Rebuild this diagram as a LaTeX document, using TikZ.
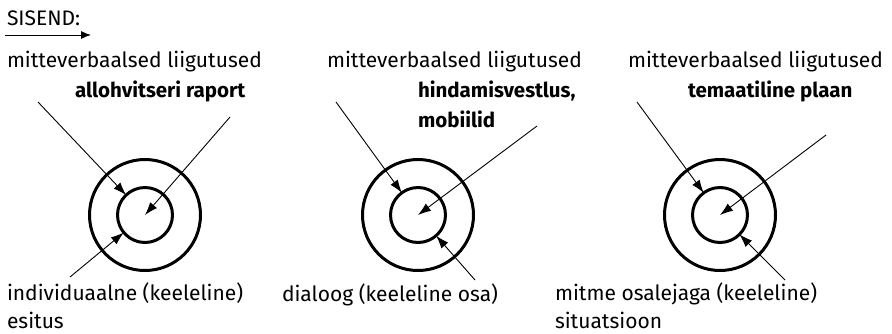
\documentclass[tikz,border=0pt]{standalone}
\usepackage{fontspec}
\setmainfont{Fira Sans}
\usetikzlibrary{arrows.meta}

\begin{document}
\begin{tikzpicture}[x=1pt, y=-1pt,
  every node/.style = {inner sep=0pt, outer sep=0pt},
  caption/.style = {anchor=base west, align=left,
    font=\fontsize{21}{28}\selectfont},
  topic/.style = {caption, font=\fontsize{20.5}{30}\selectfont\bfseries},
  outer ring/.style = {circle, draw, line width=3pt, minimum size=111pt},
  inner ring/.style = {circle, draw, line width=3pt, minimum size=55pt},
  pointer/.style = {-{Latex[length=13pt,width=9pt]}, line width=0.9pt}]
  \useasboundingbox (0,0) rectangle (892,333);

  % input marker
  \node[caption] (input) at (7,25) {SISEND:};
  \coordinate (inputstart) at (5,35);
  \coordinate (inputend) at (91,35);
  \draw[-{Latex[length=10pt,width=8pt]}, line width=0.9pt] (inputstart) -- (inputend);

  % three levels
  \foreach \i/\cx/\tx/\bx in {1/145/7/75, 2/418/327/418, 3/720/628/688} {
    \node[outer ring] (ring\i) at (\cx,215) {};
    \node[inner ring] (core\i) at (\cx,215) {};
    \node[caption] (moves\i) at (\tx,67) {mitteverbaalsed liigutused};
  }
  % multi-line texts sit on their last baseline
  \node[topic] (topic1) at (75,97) {allohvitseri raport};
  \node[topic] (topic2) at (418,127) {hindamisvestlus,\\mobiilid};
  \node[topic] (topic3) at (688,97) {temaatiline plaan};

  \node[caption] (form1) at (7,328) {individuaalne (keeleline)\\esitus};
  \node[caption] (form2) at (282,301) {dialoog (keeleline osa)};
  \node[caption] (form3) at (555,328) {mitme osalejaga (keeleline)\\situatsioon};

  % arrow start points
  \coordinate (movesfrom1) at (38,102);
  \coordinate (topicfrom1) at (230,117);
  \coordinate (formfrom1) at (70,277);
  \coordinate (movesfrom2) at (336,102);
  \coordinate (topicfrom2) at (537,126);
  \coordinate (formfrom2) at (475,280);
  \coordinate (movesfrom3) at (637,102);
  \coordinate (topicfrom3) at (826,135);
  \coordinate (formfrom3) at (785,280);

  \foreach \i in {1,2,3} {
    \draw[pointer] (movesfrom\i) -- (core\i);
    \draw[pointer] (topicfrom\i) -- (core\i.center);
    \draw[pointer] (formfrom\i) -- (core\i);
  }
\end{tikzpicture}
\end{document}
